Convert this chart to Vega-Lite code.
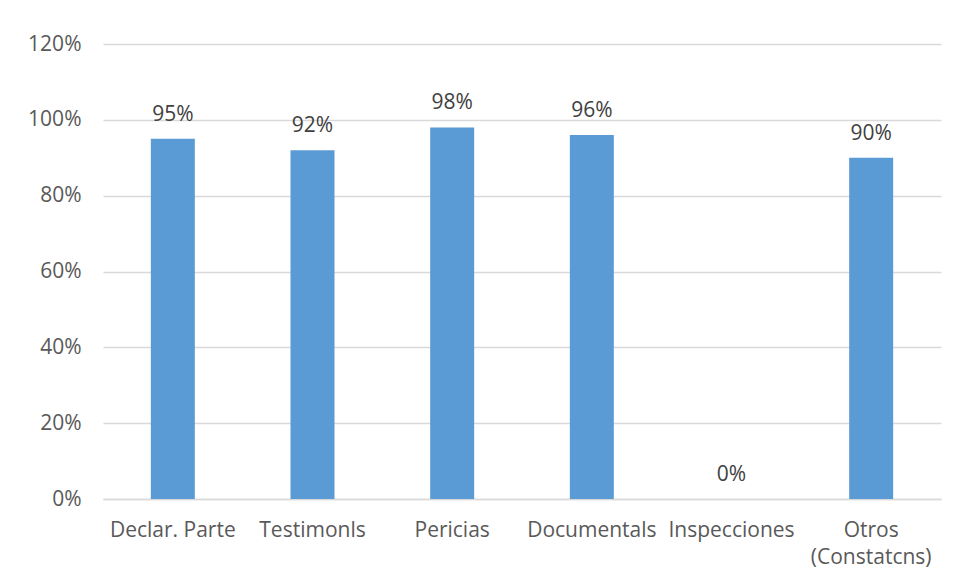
{
  "$schema": "https://vega.github.io/schema/vega-lite/v6.json",
  "autosize": {"type": "none"},
  "width": 838,
  "height": 455,
  "padding": {"left": 103, "top": 44, "right": 14, "bottom": 84},
  "background": "white",
  "data": {"values": [
    {"cat": "Declar. Parte", "v": 0.95},
    {"cat": "Testimonls", "v": 0.92},
    {"cat": "Pericias", "v": 0.98},
    {"cat": "Documentals", "v": 0.96},
    {"cat": "Inspecciones", "v": 0.0},
    {"cat": "Otros (Constatcns)", "v": 0.90}
  ]},
  "config": {
    "view": {"stroke": null},
    "font": "Open Sans",
    "text": {"font": "Open Sans"}
  },
  "encoding": {
    "x": {"field": "cat", "type": "nominal", "sort": null,
      "scale": {"paddingInner": 0.685, "paddingOuter": 0.3425},
      "axis": {"title": null, "labelAngle": 0, "labelFontSize": 21, "labelColor": "#595959", "labelFont": "Open Sans",
        "domain": true, "domainColor": "#D9D9D9", "domainWidth": 1.5, "ticks": false, "labelPadding": 20,
        "labelExpr": "datum.value == 'Otros (Constatcns)' ? ['Otros', '(Constatcns)'] : datum.value",
        "labelLineHeight": 27}},
    "y": {"field": "v", "type": "quantitative",
      "scale": {"domain": [0, 1.2], "nice": false},
      "axis": {"title": null, "format": ".0%", "values": [0, 0.2, 0.4, 0.6, 0.8, 1.0, 1.2],
        "labelFontSize": 21, "labelColor": "#595959", "labelFont": "Open Sans", "labelPadding": 22,
        "domain": false, "ticks": false, "gridColor": "#D9D9D9", "gridWidth": 1.5}}
  },
  "layer": [
    {"mark": {"type": "bar", "color": "#5B9BD5"}},
    {"mark": {"type": "text", "baseline": "bottom", "dy": -14, "fontSize": 21, "color": "#404040", "font": "Open Sans"},
      "encoding": {"text": {"field": "v", "type": "quantitative", "format": ".0%"}}}
  ]
}
